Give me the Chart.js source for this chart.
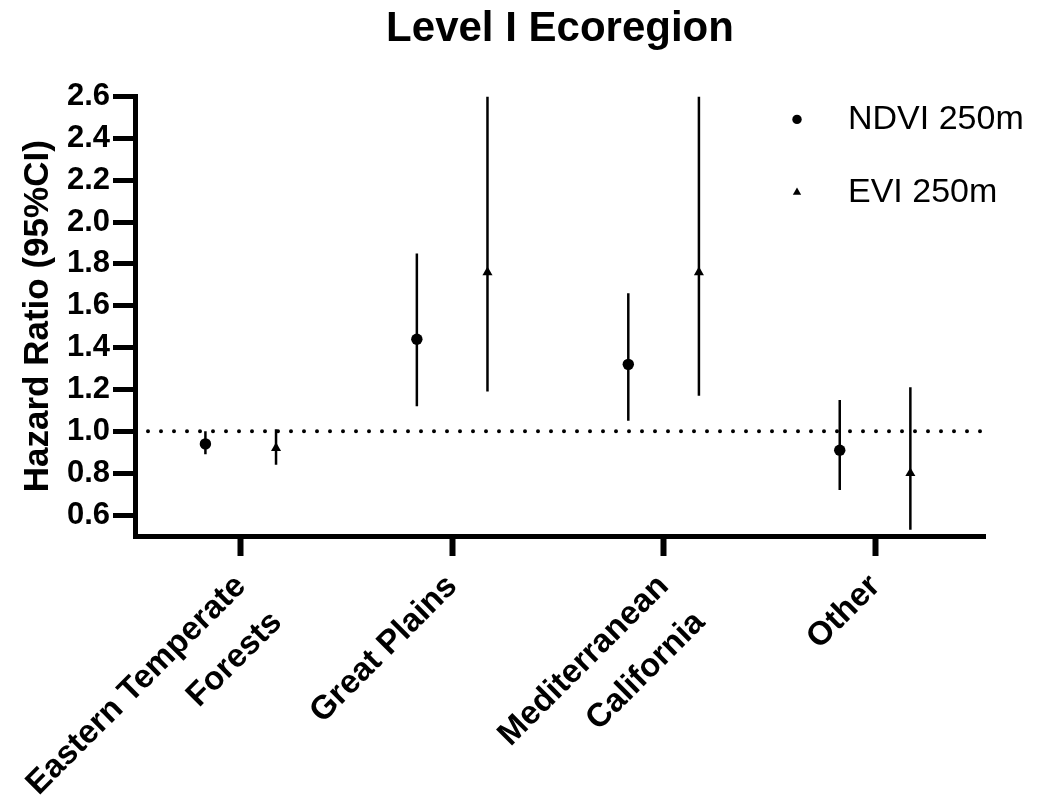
<!DOCTYPE html>
<html>
<head>
<meta charset="utf-8">
<title>Level I Ecoregion</title>
<script src="https://cdn.jsdelivr.net/npm/chart.js@4.4.1/dist/chart.umd.min.js"></script>
<style>
  html, body { margin: 0; padding: 0; background: #fff; }
  #wrap { width: 1037px; height: 797px; }
</style>
</head>
<body>
<div id="wrap"><canvas id="hrChart" width="1037" height="797"></canvas></div>
<script>
// ====== DATA ======
const categories = [["Eastern Temperate", "Forests"], "Great Plains", ["Mediterranean", "California"], "Other"];
const categoryPos = [0.5, 1.5, 2.5, 3.5];
const yTickValues = [0.6, 0.8, 1.0, 1.2, 1.4, 1.6, 1.8, 2.0, 2.2, 2.4, 2.6];

// NDVI 250m: hazard ratio + 95% CI
const ndviHR   = [0.94, 1.44, 1.32, 0.91];
const ndviLow  = [0.89, 1.12, 1.05, 0.72];
const ndviHigh = [1.00, 1.85, 1.66, 1.15];

// EVI 250m (upper CI runs off the top of the axis for two groups)
const eviHR   = [0.92, 1.76, 1.76, 0.80];
const eviLow  = [0.84, 1.19, 1.17, 0.53];
const eviHigh = [1.01, 2.60, 2.60, 1.21];

const refLine = 1.0;

// ====== LAYOUT ======
const X_MAX = 4.02;
const DODGE = 0.167;
const FONT = '"Liberation Sans", Arial, Helvetica, sans-serif';

function points(hr, lo, hi, shift) {
  return hr.map((v, i) => ({ x: categoryPos[i] + shift, y: v, lo: lo[i], hi: hi[i] }));
}

// vertical CI lines, drawn through the chart's own scales
const errorBarPlugin = {
  id: 'errorBars',
  beforeDatasetsDraw(chart) {
    const { ctx, chartArea, scales: { x, y } } = chart;
    ctx.save();
    ctx.beginPath();
    ctx.rect(chartArea.left, chartArea.top, chartArea.width, chartArea.height);
    ctx.clip();
    ctx.strokeStyle = '#000';
    ctx.lineWidth = 2.5;
    chart.data.datasets.forEach(ds => {
      if (!ds.errorBars) return;
      ds.data.forEach(p => {
        const px = x.getPixelForValue(p.x);
        ctx.beginPath();
        ctx.moveTo(px, y.getPixelForValue(p.lo));
        ctx.lineTo(px, y.getPixelForValue(p.hi));
        ctx.stroke();
      });
    });
    ctx.restore();
  }
};

// legend in the top right corner of the plot
const legendPlugin = {
  id: 'cornerLegend',
  afterDraw(chart) {
    const { ctx, chartArea } = chart;
    const items = chart.data.datasets.filter(ds => ds.errorBars);
    ctx.save();
    ctx.font = '34px ' + FONT;
    ctx.textBaseline = 'middle';
    ctx.textAlign = 'left';
    ctx.fillStyle = '#000';
    items.forEach((ds, i) => {
      const my = chartArea.top + 23 + i * 73;
      Chart.helpers.drawPoint(ctx, { pointStyle: ds.pointStyle, radius: ds.legendRadius, rotation: 0, borderWidth: 0 }, chartArea.right - 188, my);
      ctx.fillText(ds.label, chartArea.right - 137, my);
    });
    ctx.restore();
  }
};

new Chart(document.getElementById('hrChart'), {
  type: 'scatter',
  data: {
    datasets: [
      {
        label: 'NDVI 250m',
        data: points(ndviHR, ndviLow, ndviHigh, -DODGE),
        errorBars: true,
        pointStyle: 'circle',
        pointRadius: 5.7,
        legendRadius: 4.7,
        backgroundColor: '#000',
        borderColor: '#000',
        borderWidth: 0
      },
      {
        label: 'EVI 250m',
        data: points(eviHR, eviLow, eviHigh, DODGE),
        errorBars: true,
        pointStyle: 'triangle',
        pointRadius: 5.8,
        legendRadius: 4.8,
        backgroundColor: '#000',
        borderColor: '#000',
        borderWidth: 0
      },
      {
        type: 'line',
        label: 'HR = 1',
        data: [{ x: 0, y: refLine }, { x: X_MAX, y: refLine }],
        borderColor: '#000',
        borderWidth: 4,
        borderDash: [0, 13],
        borderCapStyle: 'round',
        pointRadius: 0,
        fill: false
      }
    ]
  },
  options: {
    responsive: false,
    animation: false,
    devicePixelRatio: 1,
    layout: { padding: { top: 0, right: 52, bottom: 0, left: 0 } },
    plugins: {
      legend: { display: false },
      tooltip: { enabled: false },
      title: {
        display: true,
        fullSize: false,
        text: 'Level I Ecoregion',
        color: '#000',
        font: { family: FONT, size: 42, weight: 'bold' },
        padding: { top: 4, bottom: 42 }
      }
    },
    scales: {
      x: {
        type: 'linear',
        min: 0,
        max: X_MAX,
        afterBuildTicks: (scale) => { scale.ticks = categoryPos.map(v => ({ value: v })); },
        afterFit: (scale) => { scale.height = 261; },
        border: { display: true, color: '#000', width: 5 },
        grid: { display: true, drawOnChartArea: false, drawTicks: true, tickLength: 20, tickWidth: 6, tickColor: '#000' },
        ticks: {
          autoSkip: false,
          minRotation: 45,
          maxRotation: 45,
          padding: 7,
          color: '#000',
          font: { family: FONT, size: 33, weight: 'bold', lineHeight: 1.55 },
          callback: (v, i) => categories[i]
        }
      },
      y: {
        type: 'linear',
        min: 0.5,
        max: 2.6,
        afterBuildTicks: (scale) => { scale.ticks = yTickValues.map(v => ({ value: v })); },
        afterFit: (scale) => { scale.width = 135; },
        border: { display: true, color: '#000', width: 5 },
        grid: { display: true, drawOnChartArea: false, drawTicks: true, tickLength: 22, tickWidth: 5, tickColor: '#000' },
        ticks: {
          padding: 3,
          color: '#000',
          font: { family: FONT, size: 31, weight: 'bold' },
          callback: (v) => Number(v).toFixed(1)
        },
        title: {
          display: true,
          text: 'Hazard Ratio (95%CI)',
          color: '#000',
          font: { family: FONT, size: 35, weight: 'bold' },
          padding: { top: 17, bottom: 0 }
        }
      }
    }
  },
  plugins: [errorBarPlugin, legendPlugin]
});
</script>
</body>
</html>
